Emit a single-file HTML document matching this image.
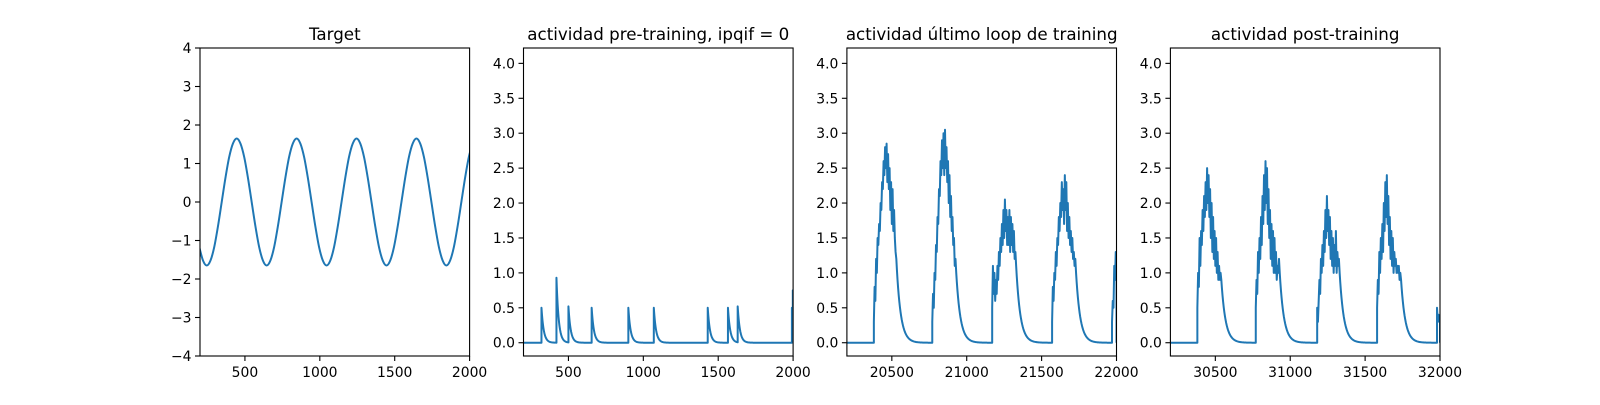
<!DOCTYPE html>
<html><head><meta charset="utf-8"><style>
body{margin:0;background:#fff}
svg text{font-family:"DejaVu Sans","Liberation Sans",sans-serif;fill:#000}
</style></head><body>
<svg id="fig" width="1600" height="400" xmlns="http://www.w3.org/2000/svg"></svg>
<script>
// ---- data ----
const titles = ["Target","actividad pre-training, ipqif = 0","actividad último loop de training","actividad post-training"];
const xLims = [[200,2000],[200,2000],[20200,22000],[30200,32000]];
const xTicks = [[500,1000,1500,2000],[500,1000,1500,2000],[20500,21000,21500,22000],[30500,31000,31500,32000]];
const yTicksTarget = [-4,-3,-2,-1,0,1,2,3,4];
const yTicksAct = [0,0.5,1,1.5,2,2.5,3,3.5,4];
// target samples: start t=195, step 25
const targetStart = 195, targetStep = 25;
const period16 = [0,.63,1.17,1.52,1.65,1.52,1.17,.63,0,-.63,-1.17,-1.52,-1.65,-1.52,-1.17,-.63];
const targetVals = [-1.17,-1.52,-1.65,-1.52,-1.17,-.63].concat(period16,period16,period16,period16,[0,.63,1.17,1.52]);
// pre-training spikes
const spikeTimes = [320,420,500,655,900,1070,1430,1565,1630,1992,1998];
const spikeHeights = [0.5,0.93,0.52,0.5,0.5,0.5,0.5,0.5,0.52,0.5,0.75];
// bursts (step 5)
const burstStep = 5;
const lastStarts = [20380,20770,21170,21570,21970];
const lastBursts = [
[0.3,0.8,0.6,1.2,1.0,1.5,1.4,1.7,1.6,2.0,1.9,2.3,2.2,2.6,2.4,2.8,2.5,2.85,2.3,2.7,2.2,2.5,1.9,2.3,1.7,2.2,1.6,1.9,1.5,1.3,1.2],
[0.3,0.7,0.5,1.0,0.9,1.4,1.3,1.8,1.7,2.2,2.1,2.6,2.4,2.9,2.5,3.0,2.4,3.05,2.5,2.8,2.3,2.6,2.0,2.4,1.8,2.1,1.6,1.8,1.4,1.5,1.1,1.2,1.0],
[0.5,1.1,0.7,1.0,0.6,0.9,0.7,1.1,0.9,1.3,1.1,1.5,1.3,1.7,1.4,1.9,1.5,2.05,1.6,1.9,1.4,1.8,1.4,1.9,1.3,1.8,1.4,1.7,1.3,1.6,1.2,1.3,1.1],
[0.3,0.8,0.6,1.0,0.9,1.3,1.1,1.5,1.4,1.8,1.6,2.0,1.8,2.3,1.9,2.2,1.7,2.4,1.9,2.3,1.6,2.0,1.5,1.8,1.4,1.6,1.3,1.5,1.2,1.3,1.1,1.2,1.0],
[0.3,0.6,0.5,1.1,0.9,1.3,1.2]];
const postStarts = [30380,30770,31180,31580,31980];
const postBursts = [
[0.5,1.0,0.8,1.5,1.1,1.6,1.4,1.9,1.6,2.1,1.8,2.3,1.9,2.5,2.0,2.4,1.8,2.2,1.5,2.0,1.3,1.8,1.2,1.6,1.1,1.5,1.0,1.3,0.9,1.1,0.9,1.0,0.9],
[0.5,0.9,0.7,1.3,1.0,1.5,1.2,1.8,1.4,2.1,1.7,2.4,1.9,2.6,2.0,2.5,1.7,2.2,1.5,1.9,1.2,1.7,1.1,1.6,1.0,1.5,1.0,1.3,0.9,1.1,1.0,1.2,1.0],
[0.5,0.3,0.6,0.9,0.7,1.2,1.0,1.4,1.1,1.6,1.3,1.9,1.5,2.1,1.6,1.9,1.4,1.8,1.2,1.6,1.1,1.5,1.0,1.4,1.1,1.6,1.0,1.3,1.1,1.2,1.0],
[0.5,0.9,0.7,1.3,1.0,1.5,1.2,1.7,1.3,2.0,1.6,2.3,1.8,2.4,1.7,2.1,1.4,1.8,1.2,1.6,1.1,1.5,1.0,1.3,1.1,1.2,1.0,1.1,1.0,1.1,0.9,1.0,0.9],
[0.5,0.3,0.4,0.3,0.3]];

// ---- drawing ----
const NS="http://www.w3.org/2000/svg", svg=document.getElementById('fig');
const boxes=[[200,469.6],[523.5,793.1],[846.9,1116.5],[1170.4,1440]], Y0=48, Y1=356;
const COLOR="#1f77b4";
function mk(tag,attrs,parent){const e=document.createElementNS(NS,tag);for(const k in attrs)e.setAttribute(k,attrs[k]);(parent||svg).appendChild(e);return e;}
function fmtY(v,i){ if(i===0) return (v<0?"\u2212":"")+Math.abs(v); return v.toFixed(1);}

function seriesFor(i){
  const pts=[];
  if(i===0){ targetVals.forEach((v,k)=>pts.push([targetStart+k*targetStep,v])); return {pts,smooth:true}; }
  if(i===1){
    pts.push([200,0]);
    spikeTimes.forEach((st,k)=>{
      const next = k+1<spikeTimes.length?spikeTimes[k+1]:2010;
      const prev=pts[pts.length-1][1];
      pts.push([st,prev*Math.exp(-(st-pts[pts.length-1][0])/15)]);
      pts.push([st,spikeHeights[k]]);
      for(let tt=st+2;tt<=Math.min(next,st+120);tt+=2) pts.push([tt,spikeHeights[k]*Math.exp(-(tt-st)/15)]);
      if(next>st+120) pts.push([next,0]);
    });
    return {pts,smooth:false};
  }
  const starts=i===2?lastStarts:postStarts, bursts=i===2?lastBursts:postBursts, x0=xLims[i][0], x1=xLims[i][1];
  pts.push([x0,0]);
  starts.forEach((s,k)=>{
    pts.push([s,0]);
    bursts[k].forEach((v,j)=>pts.push([s+j*burstStep,v]));
    const tend=s+(bursts[k].length-1)*burstStep, vend=bursts[k][bursts[k].length-1];
    const next=k+1<starts.length?starts[k+1]:x1;
    for(let tt=tend+4;tt<=Math.min(next,tend+220)&&tt<=x1;tt+=4) pts.push([tt,vend*Math.exp(-(tt-tend)/28)]);
  });
  pts.push([x1,0]);
  return {pts,smooth:false};
}

titles.forEach((title,i)=>{
  const [L,R]=boxes[i], xl=xLims[i];
  const yl = i===0?[-4,4]:[-0.19,4.22];
  const sx=v=>L+(v-xl[0])/(xl[1]-xl[0])*(R-L);
  const sy=v=>Y1-(v-yl[0])/(yl[1]-yl[0])*(Y1-Y0);
  const g=mk('g',{});
  
  
  const cid='clip'+i;
  const cp=mk('clipPath',{id:cid},g); mk('rect',{x:L,y:Y0,width:R-L,height:Y1-Y0},cp);
  const s=seriesFor(i); let d='';
  if(s.smooth){
    const p=s.pts.map(q=>[sx(q[0]),sy(q[1])]);
    d='M'+p[0][0]+','+p[0][1];
    for(let k=0;k<p.length-1;k++){
      const p0=p[Math.max(k-1,0)],p1=p[k],p2=p[k+1],p3=p[Math.min(k+2,p.length-1)];
      d+=' C'+(p1[0]+(p2[0]-p0[0])/6)+','+(p1[1]+(p2[1]-p0[1])/6)+' '+(p2[0]-(p3[0]-p1[0])/6)+','+(p2[1]-(p3[1]-p1[1])/6)+' '+p2[0]+','+p2[1];
    }
  } else d=s.pts.map((q,k)=>(k?'L':'M')+sx(q[0]).toFixed(2)+','+sy(q[1]).toFixed(2)).join(' ');
  const line=mk('path',{d,fill:'none',stroke:COLOR,'stroke-width':2,'stroke-linejoin':'round','clip-path':'url(#'+cid+')'},g);
  
  
  const fr=mk('rect',{x:L,y:Y0,width:R-L,height:Y1-Y0,fill:'none',stroke:'#000','stroke-width':1.1},g);
  
  
  xTicks[i].forEach(v=>{
    const x=sx(v);
    mk('line',{x1:x,x2:x,y1:Y1,y2:Y1+5,stroke:'#000','stroke-width':1.1},g);
    const t=mk('text',{x:x,y:Y1+21,'text-anchor':'middle','font-size':13.9},g); t.textContent=v;
    
    
  });
  (i===0?yTicksTarget:yTicksAct).forEach(v=>{
    const y=sy(v);
    mk('line',{x1:L-5,x2:L,y1:y,y2:y,stroke:'#000','stroke-width':1.1},g);
    const t=mk('text',{x:L-8.5,y:y+5,'text-anchor':'end','font-size':13.9},g); t.textContent=fmtY(v,i);
    
    
  });
  const tt=mk('text',{x:(L+R)/2,y:Y0-8,'text-anchor':'middle','font-size':16.7},g); tt.textContent=title;
  
  
});
</script>
</body></html>
